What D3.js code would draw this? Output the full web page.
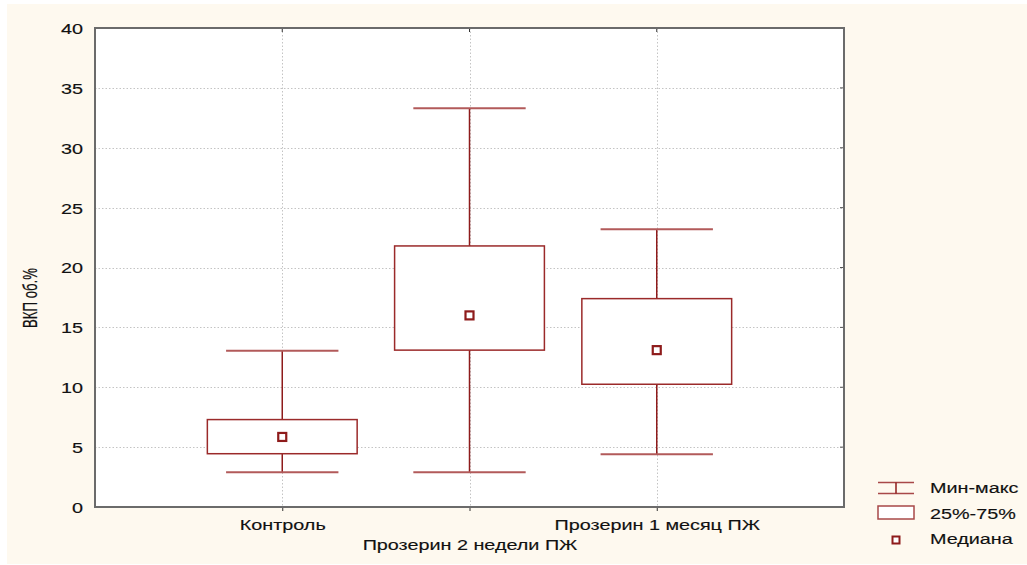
<!DOCTYPE html>
<html>
<head>
<meta charset="utf-8">
<script src="https://cdn.jsdelivr.net/npm/d3@7"></script>
<style>
  html, body { margin: 0; padding: 0; background: #ffffff; }
  svg { display: block; font-family: "Liberation Sans", Arimo, sans-serif; }
  svg text { stroke: #111; stroke-width: 0.15px; }
</style>
</head>
<body>
<svg id="chart" width="1027" height="565"></svg>
<script>
// Group names along the x axis
const categories = ["Контроль", "Прозерин 2 недели ПЖ", "Прозерин 1 месяц ПЖ"];
// Summary statistics per group (ВКП, об.%)
const minValues    = [2.9, 2.9, 4.4];
const q1Values     = [4.45, 13.1, 10.25];
const medianValues = [5.85, 16.0, 13.1];
const q3Values     = [7.3, 21.8, 17.4];
const maxValues    = [13.05, 33.3, 23.2];
// Axis ticks and labels
const yTicks = [0, 5, 10, 15, 20, 25, 30, 35, 40];
const yTitle = "ВКП об.%";
const legendLabels = ["Мин-макс", "25%-75%", "Медиана"];

const FONT = "'Liberation Sans', Arimo, sans-serif";
const SX = 1.32;          // horizontal stretch of the wide screen font
const svg = d3.select("#chart");
const M = { left: 95, top: 28, right: 844, bottom: 507 };
const red = "#8e1b1b";
const boxRed = "#9b2a2a";
const grid = "#c4c4c4";
const frame = "#6b6b6b";

// Cream panel behind the chart
svg.append("rect").attr("x", 7).attr("y", 4).attr("width", 1020).attr("height", 560)
  .attr("fill", "#fef9ef");

const x = d3.scalePoint().domain(categories).range([M.left, M.right]).padding(1);
const y = d3.scaleLinear().domain([0, 40]).range([M.bottom, M.top]);
const step = x.step();

// Plot area
svg.append("rect").attr("x", M.left).attr("y", M.top)
  .attr("width", M.right - M.left).attr("height", M.bottom - M.top)
  .attr("fill", "#ffffff");

// Dotted grid lines
const g = svg.append("g");
g.selectAll(".hg").data(yTicks.filter(t => t > 0 && t < 40)).join("line")
  .attr("x1", M.left).attr("x2", M.right)
  .attr("y1", d => Math.round(y(d)) + 0.5).attr("y2", d => Math.round(y(d)) + 0.5)
  .attr("stroke", grid).attr("stroke-dasharray", "1.5,2");
g.selectAll(".vg").data(categories).join("line")
  .attr("x1", d => Math.round(x(d)) + 0.5).attr("x2", d => Math.round(x(d)) + 0.5)
  .attr("y1", M.top).attr("y2", M.bottom)
  .attr("stroke", grid).attr("stroke-dasharray", "1.5,2");

// Y axis
const yAxis = d3.axisLeft(y).tickValues(yTicks).tickSize(0).tickPadding(0);
const ya = svg.append("g").attr("transform", `translate(${M.left},0)`).call(yAxis)
  .attr("font-family", FONT).attr("font-size", 15);
ya.select(".domain").remove();
ya.selectAll("text").style("font-size", "15px").attr("fill", "#111")
  .style("font-family", FONT)
  .attr("x", -12 / SX).attr("dy", "0.36em")
  .attr("transform", `scale(${SX},1)`);

// X axis with alternating label rows
const xAxis = d3.axisBottom(x).tickSize(4).tickPadding(0);
const xa = svg.append("g").attr("transform", `translate(0,${M.bottom})`).call(xAxis)
  .attr("font-family", FONT).attr("font-size", 15);
xa.select(".domain").remove();
xa.selectAll("line").attr("stroke", "#333");
xa.selectAll("text").style("font-size", "15px").attr("fill", "#111")
  .style("font-family", FONT)
  .attr("dy", null)
  .attr("y", (d, i) => i % 2 === 0 ? 23.5 : 43.5)
  .attr("transform", `scale(${SX},1)`);

// Small ticks on the top and right edges
svg.append("g").selectAll("line").data(categories).join("line")
  .attr("x1", d => x(d)).attr("x2", d => x(d))
  .attr("y1", M.top).attr("y2", M.top + 4).attr("stroke", "#333");
svg.append("g").selectAll("line").data(yTicks.filter(t => t > 0 && t < 40)).join("line")
  .attr("x1", M.right - 4).attr("x2", M.right)
  .attr("y1", d => y(d)).attr("y2", d => y(d)).attr("stroke", "#555");

// Frame
svg.append("rect").attr("x", M.left).attr("y", M.top)
  .attr("width", M.right - M.left).attr("height", M.bottom - M.top)
  .attr("fill", "none").attr("stroke", frame).attr("stroke-width", 2);

// Y title (rotated; the stretch falls across the glyph height)
svg.append("text")
  .attr("transform", `translate(37,298) rotate(-90) scale(1,${SX})`)
  .attr("text-anchor", "middle")
  .style("font-size", "15px").style("font-family", FONT).attr("fill", "#111")
  .attr("textLength", 60).attr("lengthAdjust", "spacingAndGlyphs")
  .text(yTitle);

// Box plots
const boxW = step * 0.8;
const capW = step * 0.6;
const data = categories.map((c, i) => ({
  c, min: minValues[i], q1: q1Values[i], med: medianValues[i], q3: q3Values[i], max: maxValues[i]
}));
const bx = svg.append("g").selectAll("g").data(data).join("g");
// whisker stems
bx.append("line").attr("x1", d => x(d.c)).attr("x2", d => x(d.c))
  .attr("y1", d => y(d.max)).attr("y2", d => y(d.q3))
  .attr("stroke", red).attr("stroke-width", 1.5);
bx.append("line").attr("x1", d => x(d.c)).attr("x2", d => x(d.c))
  .attr("y1", d => y(d.q1)).attr("y2", d => y(d.min))
  .attr("stroke", red).attr("stroke-width", 1.5);
// caps
bx.append("line").attr("x1", d => x(d.c) - capW / 2).attr("x2", d => x(d.c) + capW / 2)
  .attr("y1", d => y(d.max)).attr("y2", d => y(d.max))
  .attr("stroke", "#b25a5a").attr("stroke-width", 2);
bx.append("line").attr("x1", d => x(d.c) - capW / 2).attr("x2", d => x(d.c) + capW / 2)
  .attr("y1", d => y(d.min)).attr("y2", d => y(d.min))
  .attr("stroke", "#b25a5a").attr("stroke-width", 2);
// interquartile box
bx.append("rect").attr("x", d => x(d.c) - boxW / 2).attr("width", boxW)
  .attr("y", d => y(d.q3)).attr("height", d => y(d.q1) - y(d.q3))
  .attr("fill", "#ffffff").attr("stroke", boxRed).attr("stroke-width", 1.5);
// median marker
bx.append("rect").attr("x", d => x(d.c) - 4).attr("y", d => y(d.med) - 4)
  .attr("width", 8).attr("height", 8)
  .attr("fill", "#ffffff").attr("stroke", red).attr("stroke-width", 2.2);

// Legend
const lg = svg.append("g");
// min-max symbol
lg.append("line").attr("x1", 878).attr("x2", 914).attr("y1", 482.5).attr("y2", 482.5)
  .attr("stroke", "#a84848").attr("stroke-width", 1.5);
lg.append("line").attr("x1", 878).attr("x2", 914).attr("y1", 493.5).attr("y2", 493.5)
  .attr("stroke", "#a84848").attr("stroke-width", 1.5);
lg.append("line").attr("x1", 896).attr("x2", 896).attr("y1", 482.5).attr("y2", 493.5)
  .attr("stroke", red).attr("stroke-width", 1.5);
// box symbol
lg.append("rect").attr("x", 878).attr("y", 506).attr("width", 36).attr("height", 13)
  .attr("fill", "#ffffff").attr("stroke", "#a84848").attr("stroke-width", 1.5);
// median symbol
lg.append("rect").attr("x", 892.5).attr("y", 536.5).attr("width", 7).attr("height", 7)
  .attr("fill", "#ffffff").attr("stroke", red).attr("stroke-width", 2);
lg.selectAll("text").data(legendLabels).join("text")
  .attr("transform", (d, i) => `translate(930,${493 + i * 25.5}) scale(${SX},1)`)
  .style("font-size", "15px").style("font-family", FONT).attr("fill", "#111")
  .text(d => d);
</script>
</body>
</html>
